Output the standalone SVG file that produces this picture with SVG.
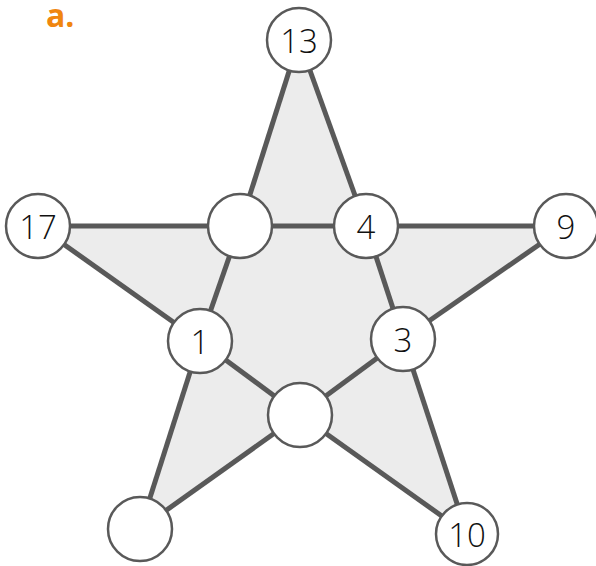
<svg xmlns="http://www.w3.org/2000/svg" width="596" height="566" viewBox="0 0 596 566">
<style>
.fill{fill:#ececec;stroke:none}
.edge{stroke:#595959;stroke-width:5;stroke-linecap:butt}
.node{fill:#ffffff;stroke:#595959;stroke-width:2.5}
.lbl{font-family:"Open Sans","Liberation Sans",sans-serif;font-weight:300;font-size:33px;fill:#111;text-anchor:middle;dominant-baseline:central}
.title{font-family:"Open Sans","Liberation Sans",sans-serif;font-weight:700;font-size:32px;fill:#f0860f}
</style>
<rect width="596" height="566" fill="#ffffff"/>
<text class="title" x="46" y="27">a.</text>
<polygon class="fill" points="299,40 366,226 566,226 403,339 467,534 300,415 140,529 200,341 38,226 240,226"/>
<g id="connectors">
<line class="edge" x1="299" y1="40" x2="240" y2="226"/>
<line class="edge" x1="299" y1="40" x2="366" y2="226"/>
<line class="edge" x1="38" y1="226" x2="240" y2="226"/>
<line class="edge" x1="240" y1="226" x2="366" y2="226"/>
<line class="edge" x1="366" y1="226" x2="566" y2="226"/>
<line class="edge" x1="566" y1="226" x2="403" y2="339"/>
<line class="edge" x1="366" y1="226" x2="403" y2="339"/>
<line class="edge" x1="403" y1="339" x2="467" y2="534"/>
<line class="edge" x1="403" y1="339" x2="300" y2="415"/>
<line class="edge" x1="467" y1="534" x2="300" y2="415"/>
<line class="edge" x1="300" y1="415" x2="140" y2="529"/>
<line class="edge" x1="300" y1="415" x2="200" y2="341"/>
<line class="edge" x1="200" y1="341" x2="140" y2="529"/>
<line class="edge" x1="200" y1="341" x2="38" y2="226"/>
<line class="edge" x1="240" y1="226" x2="200" y2="341"/>
</g>
<g id="n13"><circle class="node" cx="299" cy="40" r="32"/><text class="lbl" x="299" y="40">13</text></g>
<g id="n17"><circle class="node" cx="38" cy="226" r="32"/><text class="lbl" x="38" y="226">17</text></g>
<g id="nTL"><circle class="node" cx="240" cy="226" r="32"/></g>
<g id="n4"><circle class="node" cx="366" cy="226" r="32"/><text class="lbl" x="366" y="226">4</text></g>
<g id="n9"><circle class="node" cx="566" cy="226" r="32"/><text class="lbl" x="566" y="226">9</text></g>
<g id="n1"><circle class="node" cx="200" cy="341" r="32"/><text class="lbl" x="200" y="341">1</text></g>
<g id="n3"><circle class="node" cx="403" cy="339" r="32"/><text class="lbl" x="403" y="339">3</text></g>
<g id="nC"><circle class="node" cx="300" cy="415" r="32"/></g>
<g id="nBL"><circle class="node" cx="140" cy="529" r="32"/></g>
<g id="n10"><circle class="node" cx="467" cy="534" r="31"/><text class="lbl" x="467" y="534">10</text></g>
</svg>
